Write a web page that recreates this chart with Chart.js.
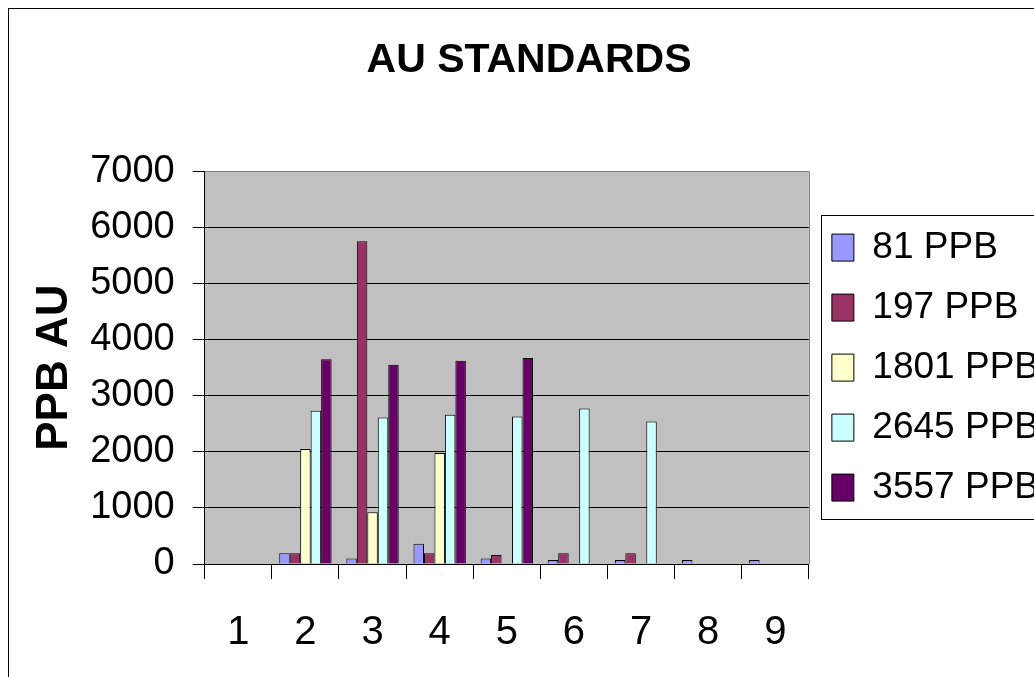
<!DOCTYPE html>
<html>
<head>
<meta charset="utf-8">
<script src="https://cdn.jsdelivr.net/npm/chart.js@4.4.1/dist/chart.umd.min.js"></script>
<style>
  html, body { margin: 0; padding: 0; background: #fff; overflow: hidden; }
  #frame { position: absolute; left: 8px; top: 8px; width: 1100px; height: 720px; border: 1px solid #000; }
  #chart { position: absolute; left: 0; top: 0; }
</style>
</head>
<body>
<div id="frame"></div>
<canvas id="chart" width="1060" height="686"></canvas>
<script>
// Sample runs 1-9 and the assayed gold for each reference standard
const runs = ['1', '2', '3', '4', '5', '6', '7', '8', '9'];
const seriesNames = ['81 PPB', '197 PPB', '1801 PPB', '2645 PPB', '3557 PPB'];
const std81   = [null, 190, 100, 360, 100, 70, 70, 70, 70];
const std197  = [null, 190, 5750, 190, 160, 190, 190, null, null];
const std1801 = [null, 2050, 920, 1980, null, null, null, null, null];
const std2645 = [null, 2730, 2610, 2660, 2630, 2770, 2540, null, null];
const std3557 = [null, 3650, 3550, 3620, 3670, null, null, null, null];
const seriesColors = ['#9999FF', '#993366', '#FFFFCC', '#CCFFFF', '#660066'];
const yTicks = [0, 1000, 2000, 3000, 4000, 5000, 6000, 7000];

const FONT = '"Liberation Sans", Arial, Helvetica, sans-serif';
const allSeries = [std81, std197, std1801, std2645, std3557];

// grey plot area with a grey frame on the right edge
const plotBackground = {
  id: 'plotBackground',
  beforeDraw(chart) {
    const { ctx, chartArea: a } = chart;
    ctx.save();
    ctx.fillStyle = '#C0C0C0';
    ctx.fillRect(a.left, a.top, a.right - a.left, a.bottom - a.top);
    ctx.restore();
  },
  afterDatasetsDraw(chart) {
    const { ctx, chartArea: a } = chart;
    ctx.save();
    ctx.strokeStyle = '#808080';
    ctx.lineWidth = 1;
    ctx.beginPath();
    ctx.moveTo(Math.round(a.right) + 0.5, a.top);
    ctx.lineTo(Math.round(a.right) + 0.5, a.bottom);
    ctx.stroke();
    ctx.restore();
  }
};

// box around the legend entries
const legendFrame = {
  id: 'legendFrame',
  afterDraw(chart) {
    const lg = chart.legend;
    if (!lg) return;
    const { ctx } = chart;
    ctx.save();
    ctx.strokeStyle = '#000';
    ctx.lineWidth = 1;
    const x = Math.round(lg.left + 12) + 0.5;
    const y = Math.round(lg.top + 44) + 0.5;
    const h = Math.round(lg.height - 89);
    ctx.strokeRect(x, y, 400, h);
    ctx.restore();
  }
};

new Chart(document.getElementById('chart'), {
  type: 'bar',
  data: {
    labels: runs,
    datasets: seriesNames.map((name, i) => ({
      label: name,
      data: allSeries[i],
      backgroundColor: seriesColors[i],
      borderColor: '#000',
      borderWidth: 1,
      categoryPercentage: 0.78,
      barPercentage: 1.0
    }))
  },
  options: {
    responsive: false,
    animation: false,
    devicePixelRatio: 1,
    layout: { padding: { left: 9, right: 11, top: 0, bottom: 0 } },
    plugins: {
      tooltip: { enabled: false },
      title: {
        display: true,
        text: 'AU STANDARDS',
        color: '#000',
        font: { family: FONT, size: 41, weight: 'bold' },
        padding: { top: 36, bottom: 86 }
      },
      legend: {
        position: 'right',
        fullSize: false,
        align: 'center',
        labels: {
          color: '#000',
          font: { family: FONT, size: 37 },
          boxWidth: 22,
          boxHeight: 27,
          padding: 23
        }
      }
    },
    scales: {
      x: {
        offset: true,
        grid: {
          offset: true,
          drawOnChartArea: false,
          drawTicks: true,
          tickLength: 15,
          tickColor: '#000',
          lineWidth: 1
        },
        border: { display: true, color: '#000', width: 1 },
        ticks: {
          color: '#000',
          font: { family: FONT, size: 40 },
          padding: 29.5,
          maxRotation: 0
        }
      },
      y: {
        min: 0,
        max: 7000,
        afterBuildTicks(scale) { scale.ticks = yTicks.map(v => ({ value: v })); },
        grid: {
          color: (c) => (c.tick && c.tick.value === 7000 ? '#808080' : '#000'),
          lineWidth: 1,
          drawTicks: true,
          tickLength: 12,
          tickColor: '#000'
        },
        border: { display: true, color: '#000', width: 1 },
        ticks: {
          color: '#000',
          font: { family: FONT, size: 38 },
          padding: 18,
          callback: (v) => String(v)
        },
        title: {
          display: true,
          text: 'PPB AU',
          color: '#000',
          font: { family: FONT, size: 44, weight: 'bold', lineHeight: 0.8 },
          padding: { top: 28, bottom: 0 }
        }
      }
    }
  },
  plugins: [plotBackground, legendFrame]
});
</script>
</body>
</html>
